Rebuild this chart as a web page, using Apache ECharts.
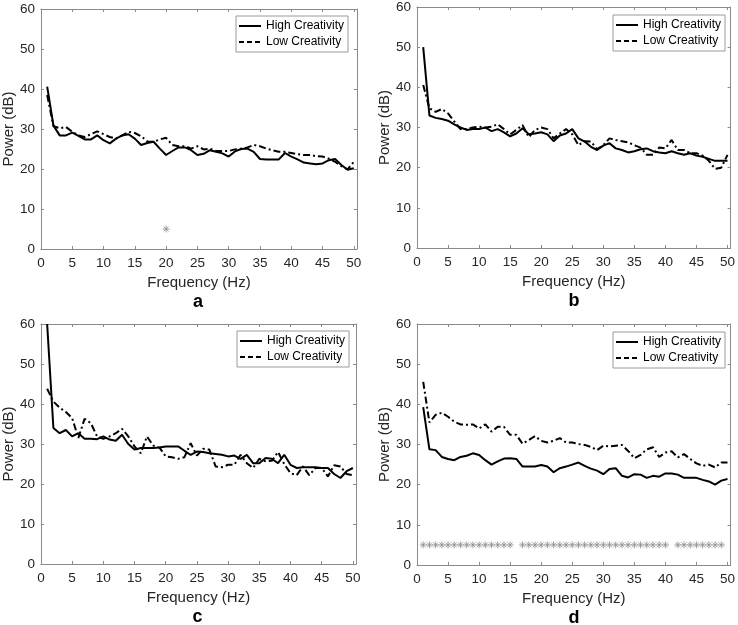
<!DOCTYPE html>
<html>
<head>
<meta charset="utf-8">
<script src="https://cdn.jsdelivr.net/npm/echarts@6/dist/echarts.min.js"></script>
<style>
html,body{margin:0;padding:0;background:#fff;}
#chart{width:738px;height:625px;}
</style>
</head>
<body>
<div id="chart"></div>
<script>
// ---------- DATA ----------
const freqs = [1,2,3,4,5,6,7,8,9,10,11,12,13,14,15,16,17,18,19,20,21,22,23,24,25,26,27,28,29,30,31,32,33,34,35,36,37,38,39,40,41,42,43,44,45,46,47,48,49,50];
const seriesNames = ['High Creativity', 'Low Creativity'];
const panelLetters = ['a', 'b', 'c', 'd'];

const highA = [40.6,30.9,28.4,28.4,29.1,28.3,27.4,27.4,28.4,27.2,26.4,27.6,28.4,28.7,27.6,26.0,26.5,26.8,25.1,23.5,24.5,25.4,25.4,24.7,23.5,23.8,24.7,24.3,23.9,23.1,24.4,25.0,25.1,24.3,22.5,22.4,22.4,22.4,24.0,23.1,22.4,21.6,21.4,21.2,21.4,22.2,22.5,21.0,19.8,20.2];
const lowA  = [38.5,30.7,30.2,30.5,29.3,28.4,28.0,28.7,29.4,28.7,28.0,27.6,28.4,29.3,29.0,28.2,26.9,26.8,27.4,27.8,26.0,25.7,25.7,25.1,25.7,24.9,25.1,24.5,24.5,24.5,24.9,25.1,25.4,26.0,25.7,25.1,24.7,24.3,24.3,24.0,23.7,23.5,23.5,23.2,23.1,22.6,21.8,20.7,19.9,21.8];

const highB = [50.0,33.0,32.4,32.1,31.7,30.8,30.0,29.4,29.6,29.6,30.0,29.1,29.6,28.8,27.8,28.5,29.8,28.3,28.5,28.8,28.3,26.6,28.0,28.5,29.6,27.3,26.5,25.2,24.4,25.5,26.1,24.8,24.4,23.8,24.1,24.6,24.8,24.1,23.8,23.6,24.1,23.6,23.2,23.6,23.0,22.7,22.2,21.7,21.7,21.7];
const lowB  = [40.6,34.8,33.9,34.6,33.5,31.5,29.6,29.6,30.0,30.2,30.0,30.2,30.8,29.6,28.3,29.4,30.6,27.6,29.4,30.0,29.6,27.3,28.5,29.6,28.3,25.6,26.6,26.5,24.6,25.6,27.3,26.9,26.6,26.3,25.6,25.0,23.2,23.2,25.0,24.8,26.9,24.4,24.4,23.6,23.6,23.0,21.7,19.7,20.0,23.2];

const highC = [60.0,34.0,32.7,33.5,31.9,32.7,31.3,31.3,31.2,31.9,31.1,30.8,32.3,30.0,28.6,29.0,29.0,29.0,29.1,29.4,29.4,29.4,28.3,27.3,28.1,28.0,27.7,27.5,27.3,26.9,27.1,26.3,27.3,25.2,25.2,26.5,26.3,25.2,27.3,24.8,24.0,24.2,24.2,24.2,24.0,24.0,22.5,21.5,23.2,24.0];
const lowC  = [43.8,40.6,39.1,38.0,36.5,31.5,36.3,35.2,31.9,31.3,31.9,32.7,33.8,31.9,29.4,27.7,31.9,29.6,29.1,26.9,26.7,26.3,26.7,30.2,27.1,28.8,28.6,24.4,24.2,24.8,24.8,27.3,25.2,24.0,26.3,25.7,25.8,28.0,25.0,22.7,22.2,24.4,22.2,24.0,24.0,21.9,24.7,24.4,22.5,22.2];

const highD = [39.3,28.8,28.6,26.9,26.4,26.1,26.9,27.2,27.8,27.4,26.1,25.0,25.8,26.5,26.6,26.4,24.5,24.5,24.5,24.9,24.5,23.1,24.1,24.5,25.0,25.5,24.7,24.0,23.5,22.6,23.9,24.1,22.2,21.8,22.6,22.5,21.7,22.2,22.0,22.8,22.8,22.5,21.7,21.7,21.7,21.2,20.8,20.0,21.0,21.4];
const lowD  = [45.6,35.5,37.4,37.9,36.9,35.7,35.0,34.9,35.0,34.0,35.0,33.2,34.4,34.4,32.4,32.4,30.2,31.1,32.1,30.9,30.5,30.9,31.6,30.5,30.5,30.1,29.9,29.4,28.6,29.7,29.5,29.7,29.9,28.4,26.6,27.4,28.8,29.3,26.9,28.0,28.3,26.8,27.6,26.4,25.3,24.7,25.0,24.3,25.5,25.5];

// significance markers (frequency positions) drawn at a fixed level
const sigLevel = 5;
const sigA = [20];
const sigB = [];
const sigC = [];
const sigD = [1,2,3,4,5,6,7,8,9,10,11,12,13,14,15,17,18,19,20,21,22,23,24,25,26,27,28,29,30,31,32,33,34,35,36,37,38,39,40,42,43,44,45,46,47,48,49];

const xTickStep = 5;
const yTickStep = 10;
const xMin = 0, xMax = 50.5;
const yMin = 0, yMax = 60;

// ---------- LAYOUT / STYLE ----------
const panels = [
  {high: highA, low: lowA, sig: sigA, grid: {left: 39, top: 9, width: 318, height: 240}, legend: {left: 236, top: 16}},
  {high: highB, low: lowB, sig: sigB, grid: {left: 417, top: 7, width: 314, height: 241}, legend: {left: 613, top: 15}},
  {high: highC, low: lowC, sig: sigC, grid: {left: 39, top: 324, width: 317, height: 240}, legend: {left: 237, top: 331}},
  {high: highD, low: lowD, sig: sigD, grid: {left: 417, top: 324, width: 314, height: 241}, legend: {left: 613, top: 332}}
];

const FONT = 'Liberation Sans, Arial, Helvetica, sans-serif';
const textColor = '#262626';
const axisColor = '#8a8a8a';
const solidStyle = {color: '#000', width: 2, type: 'solid'};
const dashDotStyle = {color: '#000', width: 2, type: [7, 3, 2, 3]};
const legendDashStyle = {color: '#000', width: 2, type: [5, 3]};

const pairs = (arr) => freqs.map((f, i) => [f, arr[i]]);

const grid = [], xAxis = [], yAxis = [], series = [], legend = [], graphic = [];

panels.forEach((p, i) => {
  grid.push(Object.assign({containLabel: false}, p.grid));
  const baseX = {
    type: 'value', gridIndex: i, min: xMin, max: xMax, interval: xTickStep,
    splitLine: {show: false},
    axisLine: {show: true, onZero: false, lineStyle: {color: axisColor, width: 1}},
    axisTick: {show: true, inside: true, length: 3, lineStyle: {color: axisColor}},
  };
  xAxis.push(Object.assign({}, baseX, {
    position: 'bottom',
    axisLabel: {show: true, color: textColor, fontSize: 13.5, fontFamily: FONT, margin: 7,
      formatter: v => (Math.abs(v % xTickStep) < 1e-9 ? String(v) : ''),
      showMaxLabel: true},
    name: 'Frequency (Hz)', nameLocation: 'middle', nameGap: 26,
    nameTextStyle: {color: textColor, fontSize: 15, fontFamily: FONT}
  }));
  xAxis.push(Object.assign({}, baseX, {position: 'top', axisLabel: {show: false}}));
  const baseY = {
    type: 'value', gridIndex: i, min: yMin, max: yMax, interval: yTickStep,
    splitLine: {show: false},
    axisLine: {show: true, onZero: false, lineStyle: {color: axisColor, width: 1}},
    axisTick: {show: true, inside: true, length: 3, lineStyle: {color: axisColor}},
  };
  yAxis.push(Object.assign({}, baseY, {
    position: 'left',
    axisLabel: {show: true, color: textColor, fontSize: 13.5, fontFamily: FONT, margin: 6},
    name: 'Power (dB)', nameLocation: 'middle', nameGap: 24,
    nameTextStyle: {color: textColor, fontSize: 15, fontFamily: FONT}
  }));
  yAxis.push(Object.assign({}, baseY, {position: 'right', axisLabel: {show: false}}));

  series.push({
    name: seriesNames[0], type: 'line', xAxisIndex: 2 * i, yAxisIndex: 2 * i,
    data: pairs(p.high), symbol: 'none', showSymbol: false, smooth: false, clip: true,
    lineStyle: solidStyle, itemStyle: {color: '#000'}, z: 3
  });
  series.push({
    name: seriesNames[1], type: 'line', xAxisIndex: 2 * i, yAxisIndex: 2 * i,
    data: pairs(p.low), symbol: 'none', showSymbol: false, smooth: false, clip: true,
    lineStyle: dashDotStyle, itemStyle: {color: '#000'}, z: 2
  });
  if (p.sig.length) {
    series.push({
      name: 'sig' + i, type: 'scatter', xAxisIndex: 2 * i, yAxisIndex: 2 * i,
      data: p.sig.map(f => [f, sigLevel]),
      symbol: 'path://M5,0L5,10M0,5L10,5M1.5,1.5L8.5,8.5M1.5,8.5L8.5,1.5',
      symbolSize: 7,
      itemStyle: {color: 'rgba(0,0,0,0)', borderColor: '#8c8c8c', borderWidth: 1},
      silent: true, z: 1
    });
  }

  legend.push({
    data: [
      {name: seriesNames[0], lineStyle: solidStyle, itemStyle: {opacity: 0}},
      {name: seriesNames[1], lineStyle: legendDashStyle, itemStyle: {opacity: 0}}
    ],
    orient: 'vertical',
    left: p.legend.left, top: p.legend.top,
    padding: [4, 4, 4, 2], itemGap: 4, itemWidth: 22, itemHeight: 12,
    backgroundColor: '#fff', borderColor: '#9a9a9a', borderWidth: 1, borderRadius: 0,
    textStyle: {color: '#000', fontSize: 12, fontFamily: FONT},
    selectedMode: false
  });

  const g = p.grid;
  graphic.push({
    type: 'text',
    x: g.left + g.width / 2,
    y: g.top + g.height + 53,
    style: {text: panelLetters[i], font: 'bold 18px ' + FONT, fill: '#000', textAlign: 'center', textVerticalAlign: 'middle'}
  });
});

const chart = echarts.init(document.getElementById('chart'), null, {renderer: 'canvas'});
chart.setOption({
  animation: false,
  backgroundColor: '#fff',
  grid, xAxis, yAxis, series, legend, graphic
});
</script>
</body>
</html>
